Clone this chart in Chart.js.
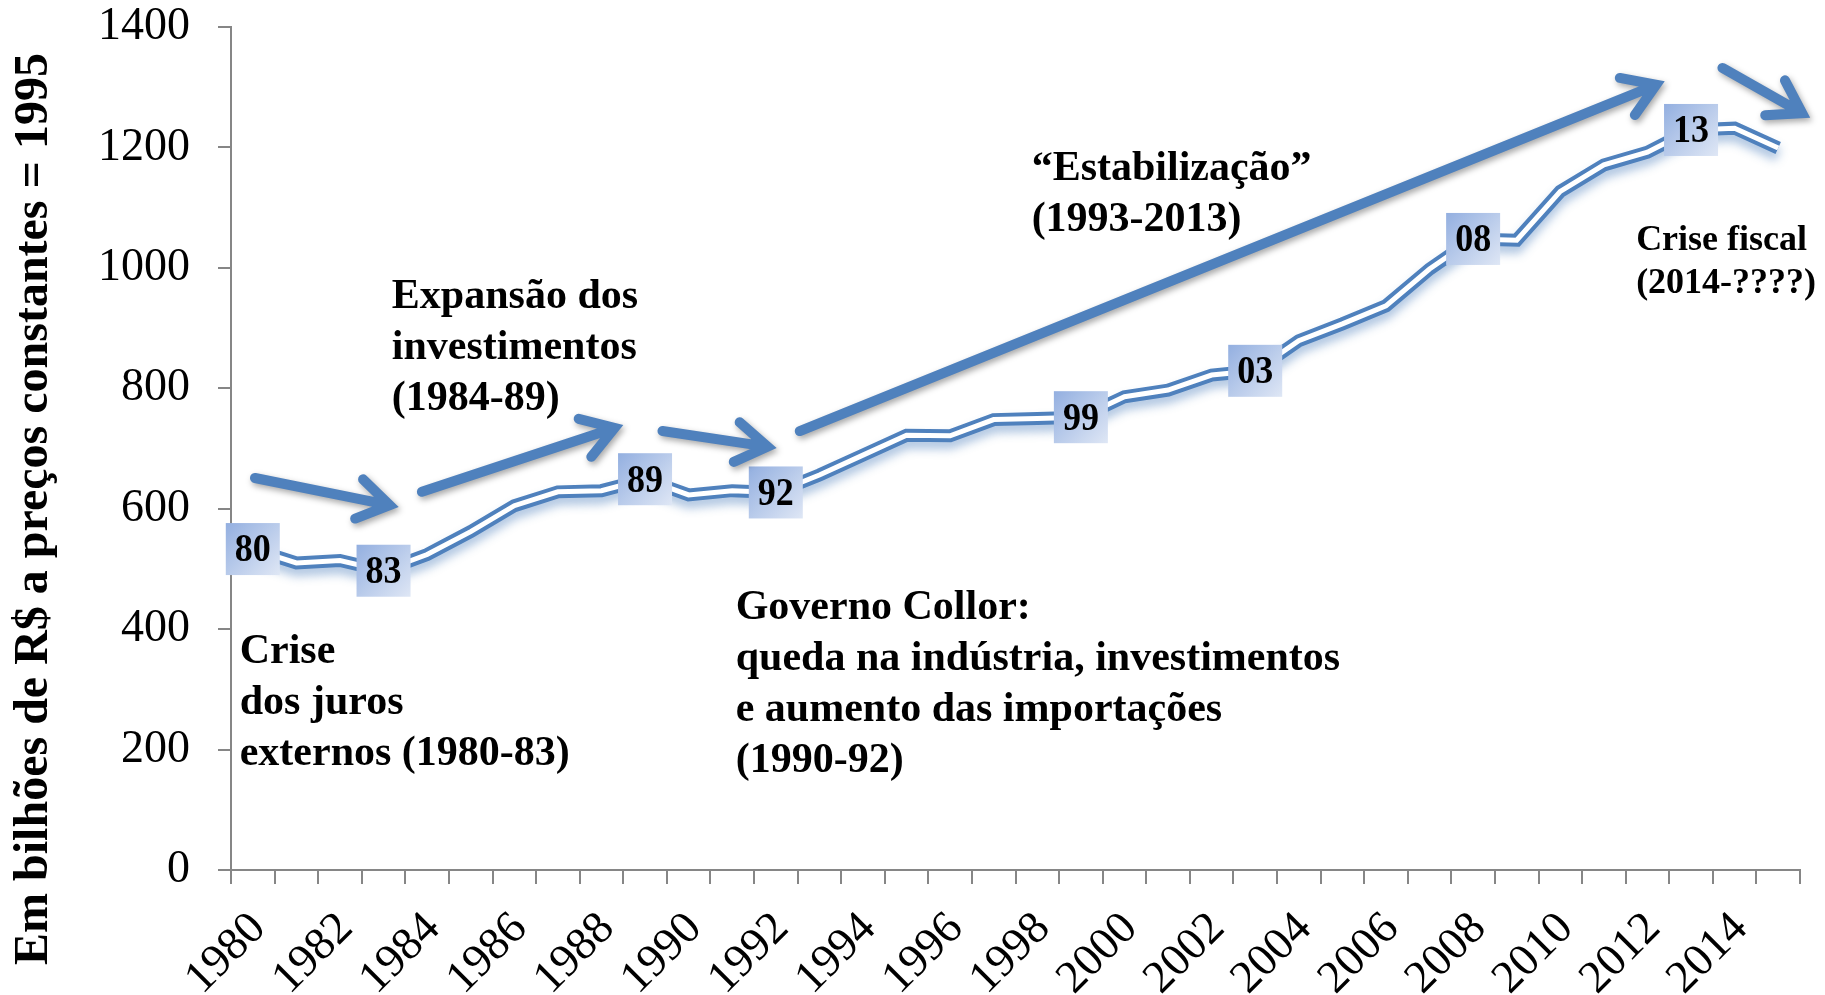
<!DOCTYPE html>
<html>
<head>
<meta charset="utf-8">
<script src="https://cdn.jsdelivr.net/npm/chart.js@4.4.1/dist/chart.umd.min.js"></script>
<style>
	html, body { margin: 0; padding: 0; background: #fff; }
</style>
</head>
<body>
<canvas id="pib-chart" width="1825" height="995"></canvas>
<script>
const years = ['1980', '1981', '1982', '1983', '1984', '1985', '1986', '1987', '1988', '1989',
	'1990', '1991', '1992', '1993', '1994', '1995', '1996', '1997', '1998', '1999',
	'2000', '2001', '2002', '2003', '2004', '2005', '2006', '2007', '2008', '2009',
	'2010', '2011', '2012', '2013', '2014', '2015'];

// PIB em bilhões de R$ a preços constantes de 1995
const pib = [533, 510, 514, 497, 524, 562, 605, 628, 630, 649,
	623, 630, 627, 656, 689, 722, 721, 748, 750, 752,
	786, 797, 822, 829, 879, 907, 937, 998, 1048, 1046,
	1127, 1171, 1192, 1229, 1232, 1199];

// anos marcados com caixa no gráfico
const taggedYears = ['1980', '1983', '1989', '1992', '1999', '2003', '2008', '2013'];

const yTitle = 'Em bilhões de R$ a preços constantes = 1995';

// setas e textos, em unidades do gráfico (ano, valor)
const arrows = [
	{ from: [1980.05, 651], to: [1983.14, 606] },
	{ from: [1983.88, 628], to: [1988.30, 734] },
	{ from: [1989.40, 729], to: [1991.81, 703] },
	{ from: [1992.55, 729], to: [2012.20, 1304] },
	{ from: [2013.72, 1332], to: [2015.55, 1257] }
];

const notes = [
	{ at: [1983.19, 933], lines: ['Expansão dos', 'investimentos', '(1984-89)'] },
	{ at: [1997.87, 1146], lines: ['“Estabilização”', '(1993-2013)'] },
	{ at: [2011.74, 1030], lines: ['Crise fiscal', '(2014-????)'], small: true },
	{ at: [1979.70, 343], lines: ['Crise', 'dos juros', 'externos (1980-83)'] },
	{ at: [1991.08, 417], lines: ['Governo Collor:', 'queda na indústria, investimentos', 'e aumento das importações', '(1990-92)'] }
];

const blueColor = '#4f81bd';
const axisColor = '#868686';
const serif = "'Liberation Serif', 'Times New Roman', serif";

function drawArrow(ctx, x0, y0, x1, y1) {
	const ang = Math.atan2(y1 - y0, x1 - x0);
	const head = 37;
	const spread = Math.PI / 5.5;
	ctx.beginPath();
	ctx.moveTo(x0, y0);
	ctx.lineTo(x1 - 4 * Math.cos(ang), y1 - 4 * Math.sin(ang));
	ctx.moveTo(x1 - head * Math.cos(ang - spread), y1 - head * Math.sin(ang - spread));
	ctx.lineTo(x1, y1);
	ctx.lineTo(x1 - head * Math.cos(ang + spread), y1 - head * Math.sin(ang + spread));
	ctx.stroke();
}

const annotationsPlugin = {
	id: 'annotations',
	beforeDatasetDraw: (chart, args) => {
		if (args.index !== 0) return;
		const ctx = chart.ctx;
		ctx.save();
		ctx.shadowColor = 'rgba(79, 129, 189, 0.45)';
		ctx.shadowBlur = 10;
		ctx.shadowOffsetY = 7;
	},
	afterDatasetDraw: (chart, args) => {
		if (args.index === 0) chart.ctx.restore();
	},
	afterDatasetsDraw: (chart) => {
		const { ctx, scales: { x, y } } = chart;
		const px = yr => x.getPixelForValue(yr - 1980);

		// caixas com os anos
		taggedYears.forEach(yr => {
			const i = years.indexOf(yr);
			const cx = x.getPixelForValue(i);
			const cy = y.getPixelForValue(pib[i]);
			const w = 54, h = 52;
			ctx.save();
			const g = ctx.createLinearGradient(cx - w / 2, cy - h / 2, cx + w / 2, cy + h / 2);
			g.addColorStop(0, '#93afe0');
			g.addColorStop(1, '#dfe7f5');
			ctx.fillStyle = g;
			ctx.fillRect(cx - w / 2, cy - h / 2, w, h);
			ctx.translate(cx, cy + 2);
			ctx.scale(0.9, 1);
			ctx.font = 'bold 40px ' + serif;
			ctx.textAlign = 'center';
			ctx.textBaseline = 'middle';
			ctx.fillStyle = '#000';
			ctx.fillText(yr.slice(2), 0, 0);
			ctx.restore();
		});

		// setas
		ctx.save();
		ctx.strokeStyle = blueColor;
		ctx.lineWidth = 10;
		ctx.lineCap = 'round';
		ctx.lineJoin = 'miter';
		ctx.shadowColor = 'rgba(0, 0, 0, 0.35)';
		ctx.shadowBlur = 6;
		ctx.shadowOffsetX = 2;
		ctx.shadowOffsetY = 3;
		arrows.forEach(a => {
			drawArrow(ctx, px(a.from[0]), y.getPixelForValue(a.from[1]),
				px(a.to[0]), y.getPixelForValue(a.to[1]));
		});
		ctx.restore();

		// textos
		ctx.save();
		ctx.fillStyle = '#000';
		ctx.textAlign = 'left';
		ctx.textBaseline = 'alphabetic';
		notes.forEach(n => {
			const size = n.small ? 36 : 42;
			const lh = n.small ? 43 : 51;
			ctx.font = 'bold ' + size + 'px ' + serif;
			const lx = px(n.at[0]);
			const ly = y.getPixelForValue(n.at[1]);
			n.lines.forEach((t, k) => ctx.fillText(t, lx, ly + k * lh));
		});
		ctx.restore();

		// título do eixo y
		ctx.save();
		ctx.translate(35, 509);
		ctx.rotate(-Math.PI / 2);
		ctx.font = 'bold 48px ' + serif;
		ctx.textAlign = 'center';
		ctx.textBaseline = 'middle';
		ctx.fillStyle = '#000';
		ctx.fillText(yTitle, 0, 0);
		ctx.restore();
	}
};

const chart = new Chart(document.getElementById('pib-chart'), {
	type: 'line',
	data: {
		labels: years,
		datasets: [{
			label: 'PIB',
			data: pib,
			borderColor: blueColor,
			borderWidth: 13,
			pointRadius: 0,
			tension: 0,
			order: 1
		}, {
			label: 'PIB (linha interna)',
			data: pib,
			borderColor: '#ffffff',
			borderWidth: 5,
			pointRadius: 0,
			tension: 0,
			order: 0
		}]
	},
	options: {
		responsive: false,
		animation: false,
		layout: {
			padding: { top: 27, right: 25, left: 0, bottom: 0 }
		},
		plugins: {
			legend: { display: false },
			tooltip: { enabled: false }
		},
		scales: {
			x: {
				offset: true,
				afterFit: scale => {
					scale.height = 125;
					scale.paddingTop = 0;
					scale.paddingRight = 0;
				},
				grid: {
					offset: true,
					drawOnChartArea: false,
					tickLength: 14,
					color: axisColor,
					lineWidth: 2
				},
				border: { color: axisColor, width: 2 },
				ticks: {
					autoSkip: false,
					minRotation: 45,
					maxRotation: 45,
					padding: 18,
					labelOffset: 6,
					color: '#000',
					font: { family: serif, size: 46 },
					callback: (v, i) => i % 2 === 0 ? years[i] : ''
				}
			},
			y: {
				min: 0,
				max: 1400,
				afterFit: scale => {
					scale.width = 231;
					scale.paddingTop = 0;
					scale.paddingBottom = 0;
				},
				grid: {
					drawOnChartArea: false,
					tickLength: 13,
					color: axisColor,
					lineWidth: 2
				},
				border: { color: axisColor, width: 2 },
				ticks: {
					stepSize: 200,
					padding: 28,
					color: '#000',
					font: { family: serif, size: 46 },
					callback: v => String(v)
				}
			}
		}
	},
	plugins: [annotationsPlugin]
});
</script>
</body>
</html>
